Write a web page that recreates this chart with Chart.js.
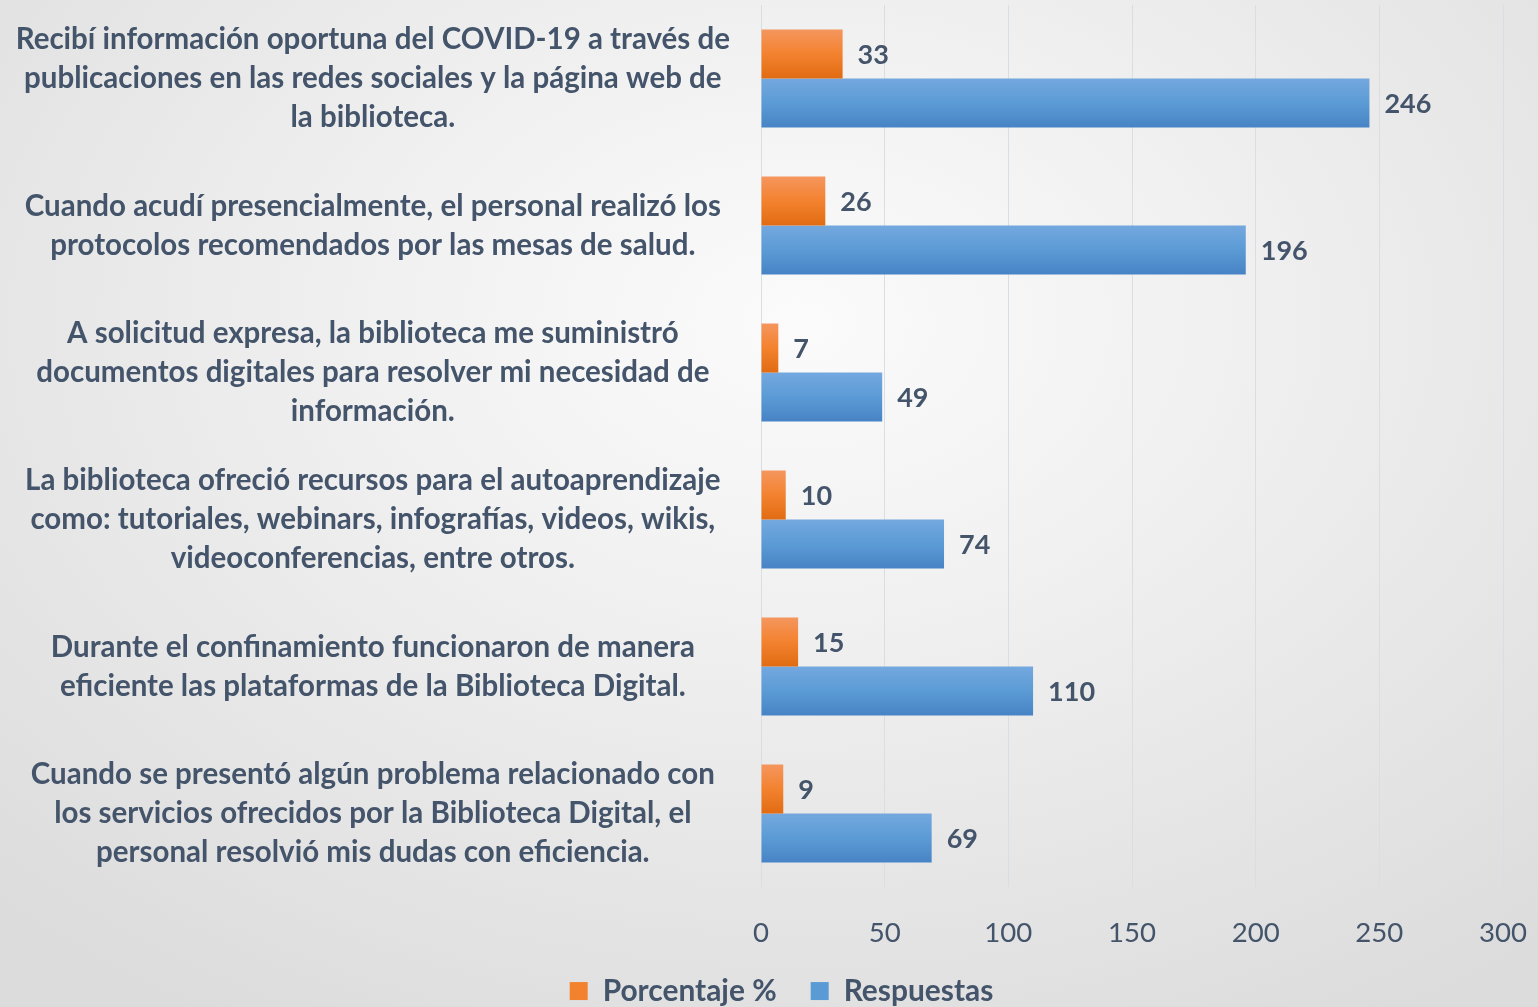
<!DOCTYPE html>
<html>
<head>
<meta charset="utf-8">
<script src="https://cdn.jsdelivr.net/npm/chart.js@4"></script>
<style>
html, body { margin: 0; padding: 0; }
body {
    width: 1538px; height: 1007px; overflow: hidden;
    background: radial-gradient(ellipse 75% 80% at 52% 32%, #fbfbfb 0%, #f1f1f1 35%, #dcdcdc 100%);
}
#contenedor { position: relative; width: 1538px; height: 1007px; }
</style>
</head>
<body>
<div id="contenedor"><canvas id="grafico"></canvas></div>
<script>
// datos
const categorias = [
    ["Recibí información oportuna del COVID-19 a través de", "publicaciones en las redes sociales y la página web de", "la biblioteca."],
    ["Cuando acudí presencialmente, el personal realizó los", "protocolos recomendados por las mesas de salud."],
    ["A solicitud expresa, la biblioteca me suministró", "documentos digitales para resolver mi necesidad de", "información."],
    ["La biblioteca ofreció recursos para el autoaprendizaje", "como: tutoriales, webinars, infografías, videos, wikis,", "videoconferencias, entre otros."],
    ["Durante el confinamiento funcionaron de manera", "eficiente las plataformas de la Biblioteca Digital."],
    ["Cuando se presentó algún problema relacionado con", "los servicios ofrecidos por la Biblioteca Digital, el", "personal resolvió mis dudas con eficiencia."]
];
const porcentaje = [33, 26, 7, 10, 15, 9];
const respuestas = [246, 196, 49, 74, 110, 69];
const series = ["Porcentaje %", "Respuestas"];
const ejeMin = 0, ejeMax = 300, ejePaso = 50;

const colorTexto = '#44546A';
const fuente = 'Lato';

// ajusta el tamaño de letra al ancho que tiene en la imagen
const medida = document.createElement('canvas').getContext('2d');
function tamPara(texto, ancho, peso) {
    medida.font = peso + ' 100px ' + fuente;
    return Math.round(ancho / medida.measureText(texto).width * 1000) / 10;
}
const tamEtiqueta = tamPara(categorias[0][0], 715, 'bold');
const tamTick = tamPara('300', 48, 'normal');
const tamValor = tamPara('246', 47, 'bold');
const tamLeyenda = tamPara('Porcentaje %', 174, 'bold');

const degradados = [
    ['#F5965E', '#F3822F', '#E16B12'],
    ['#74A8DF', '#5B9BD5', '#4783C5']
];

const rellenoBarras = {
    id: 'rellenoBarras',
    beforeDatasetsDraw(chart) {
        const ctx = chart.ctx;
        chart.data.datasets.forEach((ds, i) => {
            chart.getDatasetMeta(i).data.forEach(bar => {
                const arriba = bar.y - bar.height / 2, abajo = bar.y + bar.height / 2;
                const g = ctx.createLinearGradient(0, arriba, 0, abajo);
                g.addColorStop(0, degradados[i][0]);
                g.addColorStop(0.5, degradados[i][1]);
                g.addColorStop(1, degradados[i][2]);
                bar.options = Object.assign({}, bar.options, { backgroundColor: g });
            });
        });
    }
};

const etiquetasValor = {
    id: 'etiquetasValor',
    afterDatasetsDraw(chart) {
        const ctx = chart.ctx;
        ctx.save();
        ctx.font = 'bold ' + tamValor + 'px ' + fuente;
        ctx.fillStyle = colorTexto;
        ctx.textAlign = 'left';
        ctx.textBaseline = 'middle';
        chart.data.datasets.forEach((ds, i) => {
            chart.getDatasetMeta(i).data.forEach((bar, j) => {
                ctx.fillText(ds.data[j], bar.x + 15, bar.y + 1);
            });
        });
        ctx.restore();
    }
};

// la leyenda del original queda un poco a la derecha del centro
const moverLeyenda = {
    id: 'moverLeyenda',
    afterLayout(chart) {
        chart.legend.left += 30;
        chart.legend.right += 30;
    }
};

new Chart(document.getElementById('grafico'), {
    type: 'bar',
    data: {
        labels: categorias,
        datasets: [
            { label: series[0], data: porcentaje, backgroundColor: degradados[0][1] },
            { label: series[1], data: respuestas, backgroundColor: degradados[1][1] }
        ]
    },
    options: {
        indexAxis: 'y',
        responsive: true,
        maintainAspectRatio: false,
        animation: false,
        barPercentage: 1,
        categoryPercentage: 0.667,
        layout: { padding: { top: 5, right: 35, bottom: -9, left: 0 } },
        scales: {
            x: {
                min: ejeMin, max: ejeMax,
                border: { display: false },
                grid: { color: '#d9dee5', drawTicks: false },
                ticks: {
                    stepSize: ejePaso, padding: 29, color: colorTexto,
                    font: { family: fuente, size: tamTick }
                },
                afterFit(scale) { scale.height = 55; scale.paddingLeft = 0; scale.paddingRight = 0; }
            },
            y: {
                border: { display: false },
                grid: { display: false, drawTicks: false },
                ticks: {
                    crossAlign: 'center', padding: 31, color: colorTexto,
                    font: { family: fuente, size: tamEtiqueta, weight: 'bold', lineHeight: 39 / tamEtiqueta }
                },
                afterFit(scale) { scale.width = 761; scale.paddingTop = 0; scale.paddingBottom = 0; }
            }
        },
        plugins: {
            legend: {
                position: 'bottom',
                labels: {
                    color: colorTexto, boxWidth: 18, boxHeight: 18, padding: 34,
                    font: { family: fuente, size: tamLeyenda, weight: 'bold' }
                }
            },
            tooltip: { enabled: false }
        }
    },
    plugins: [rellenoBarras, etiquetasValor, moverLeyenda]
});
</script>
</body>
</html>
